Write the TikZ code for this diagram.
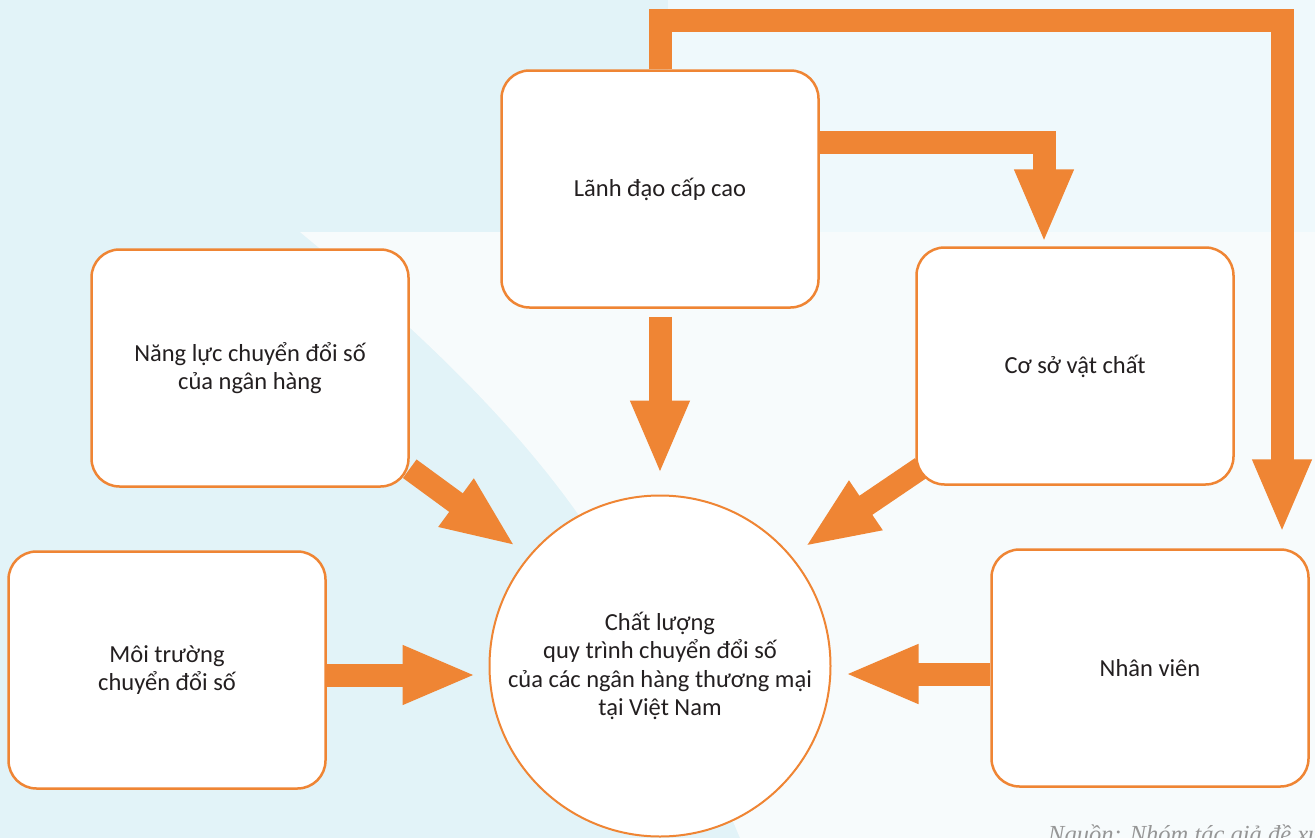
\documentclass[tikz,border=0pt]{standalone}
\usepackage{fontspec}
\setmainfont{Carlito}
\newfontfamily\srcfont{Liberation Serif}
\usetikzlibrary{arrows.meta}
\definecolor{bgcyan}{RGB}{226,243,248}
\definecolor{bgpale}{RGB}{239,249,252}
\definecolor{bgwhite}{RGB}{247,251,252}
\definecolor{orng}{RGB}{239,133,52}
\definecolor{txt}{RGB}{35,31,32}
\definecolor{srcgray}{RGB}{150,150,150}
\pgfdeclarelayer{bg}
\pgfdeclarelayer{arrowlayer}
\pgfsetlayers{bg,arrowlayer,main}
\tikzset{
  box/.style={draw=orng, line width=2.5pt, fill=white, rounded corners=28pt,
    minimum width=317pt, minimum height=237pt, align=center, inner sep=0pt,
    font=\fontsize{24.5}{28.5}\selectfont, text=txt},
  hub/.style={circle, draw=orng, line width=2pt, fill=white, minimum size=341pt,
    align=center, inner sep=0pt, font=\fontsize{24.5}{28.5}\selectfont, text=txt},
  arr/.style={draw=orng, line width=23pt, line join=miter,
    -{Triangle[length=74pt 0, width=54pt 0]}},
  srcnote/.style={anchor=base west, font=\srcfont\itshape\fontsize{24.5}{27}\selectfont, text=srcgray, inner sep=0pt}
}
\begin{document}
\begin{tikzpicture}[x=1pt,y=-1pt]
\useasboundingbox (0,0) rectangle (1315,838);
\clip (0,0) rectangle (1315,838);
\begin{pgfonlayer}{bg}
  \fill[bgcyan] (0,0) rectangle (1315,838);
  \fill[bgpale] (668,0) rectangle (1315,232);
  \fill[bgwhite] (300,232) -- (1315,232) -- (1315,838) -- (740,838)
     .. controls (640,600) and (600,480) .. (300,232) -- cycle;
\end{pgfonlayer}

\node[box] (lanhdao) at (660,189) {Lãnh đạo cấp cao};
\node[box] (nangluc) at (250,368) {Năng lực chuyển đổi số\\của ngân hàng};
\node[box] (coso) at (1075,366) {Cơ sở vật chất};
\node[box] (moitruong) at (167,670) {Môi trường\\chuyển đổi số};
\node[box] (nhanvien) at (1150,668) {Nhân viên};
\node[hub] (chatluong) at (660,666) {Chất lượng\\quy trình chuyển đổi số\\của các ngân hàng thương mại\\tại Việt Nam};

\coordinate (topbend) at (660,20);

\begin{pgfonlayer}{arrowlayer}
  \draw[arr, shorten <=8pt, shorten >=20pt] (lanhdao.south) -- (chatluong.north);
  \draw[arr, shorten >=3pt] ([yshift=47pt]lanhdao.east) -| ([xshift=-31pt]coso.north);
  \draw[arr, shorten >=15pt] (lanhdao.north) -- (topbend) -| ([xshift=132pt]nhanvien.north);
  \draw[arr, shorten >=16pt] ([yshift=19pt]nangluc.south east) -- (chatluong.140);
  \draw[arr, shorten >=16pt] ([xshift=6pt,yshift=18pt]coso.south west) -- (chatluong.40);
  \draw[arr, shorten >=12pt] ([yshift=-5pt]moitruong.east) -- ([yshift=-5pt]moitruong.east -| chatluong.west);
  \draw[arr, shorten >=13pt] ([yshift=-6pt]nhanvien.west) -- ([yshift=-6pt]nhanvien.west -| chatluong.east);
\end{pgfonlayer}

\node[srcnote] (src) at (1048,842) {Nguồn: Nhóm tác giả đề xuất};
\end{tikzpicture}
\end{document}
